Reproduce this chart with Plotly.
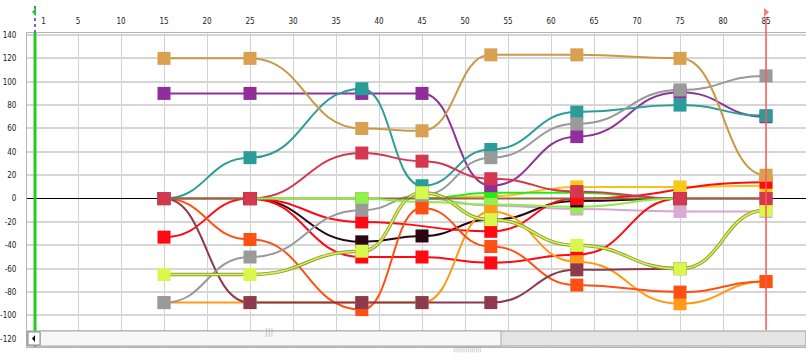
import plotly.graph_objects as go

# ---------------- data ----------------
x_pos = [15, 25, 38, 45, 53, 63, 75, 85]

brown       = [0, 0, 0, 0, 0, 0, 0, 0]
yellow      = [None, None, None, 0, 2, 10, 10, 11]
lilac       = [None, None, None, 0, -6, -9, -11, -11]
brightgreen = [None, None, None, 0, 5, 5, 0, None]
lightgreen  = [None, 0, 0, -3, -5, -7, 0, None]
black       = [None, 0, -37, -32, -18, -2, 0, None]
red_b       = [None, 0, -50, -50, -55, -48, 0, None]
red_a       = [-33, 0, -20, None, -28, 0, None, 14]
orange      = [-89, -89, -89, -89, -11, -54, -90, -71]
orangered   = [0, -35, -95, -8, -41, -74, -80, -71]
maroon      = [0, -89, -89, -89, -89, -61, -60, None]
purple      = [90, 90, 90, 90, 11, 53, 91, 70]
teal        = [0, 35, 94, 11, 42, 74, 80, 71]
gray        = [-89, -50, -10, 3, 35, 64, 93, 105]
lime        = [-65, -65, -45, 5, -18, -40, -60, -10]
tan         = [120, 120, 60, 58, 123, 123, 120, 20]
crimson     = [0, 0, 39, 32, 17, 6, 0, 0]

x_ticks = [1] + list(range(5, 95, 5))
y_ticks = list(range(-120, 160, 20))

# name, values, line colour, marker colour
series = {
    "brown": (brown, "#8E6A3C", "#8E6A3C"),
    "yellow": (yellow, "#F5C21A", "#F8C81A"),
    "lilac": (lilac, "#D6A6D2", "#D8AAD4"),
    "brightgreen": (brightgreen, "#2AE81A", "#22EE11"),
    "lightgreen": (lightgreen, "#8CEC48", "#92F04E"),
    "black": (black, "#2A0512", "#2A0512"),
    "red_b": (red_b, "#FF0A14", "#FF0A14"),
    "red_a": (red_a, "#FF0A14", "#FF0A14"),
    "orange": (orange, "#FF9A18", "#FF9B1A"),
    "orangered": (orangered, "#FF5014", "#FF5014"),
    "maroon": (maroon, "#8C3A4C", "#8E3A4E"),
    "purple": (purple, "#8E3399", "#902E9A"),
    "teal": (teal, "#2A9D9A", "#2A9D9A"),
    "gray": (gray, "#999999", "#9A9A9A"),
    "lime": (lime, "#D4F44A", "#D8F84C"),
    "tan": (tan, "#C89A48", "#D9A050"),
    "crimson": (crimson, "#D4384F", "#D4384F"),
}
line_order = ["yellow", "lilac", "brightgreen", "black", "red_b", "red_a", "orange",
              "orangered", "maroon", "purple", "teal", "gray", "lime", "tan",
              "crimson", "brown", "lightgreen"]
marker_order = ["brown", "yellow", "lilac", "brightgreen", "lightgreen", "black",
                "red_b", "red_a", "orange", "orangered", "maroon", "purple", "teal",
                "gray", "lime", "tan", "crimson"]


def smooth_path(xs, ys):
    """Cubic Bezier path (data coordinates) with flat tangents at each point."""
    pts = [(x, y) for x, y in zip(xs, ys) if y is not None]
    d = f"M {pts[0][0]},{pts[0][1]}"
    for (x0, y0), (x1, y1) in zip(pts[:-1], pts[1:]):
        xm = (x0 + x1) / 2
        d += f" C {xm},{y0} {xm},{y1} {x1},{y1}"
    return d


W, H = 806, 360
L, R, T, B = 27, 0, 33, 13
pw, ph = W - L - R, H - T - B


def px(xp):
    return (xp - L) / pw


def py(yp):
    return (H - B - yp) / ph


shapes = []
for name in line_order:
    vals, lc, mc = series[name]
    if name == "lime":
        # lime line is drawn with a darker olive edge
        shapes.append(dict(type="path", xref="x", yref="y", path=smooth_path(x_pos, vals),
                           line=dict(color="#8E9A3A", width=3.5), layer="between"))
        shapes.append(dict(type="path", xref="x", yref="y", path=smooth_path(x_pos, vals),
                           line=dict(color=lc, width=1.6), layer="between"))
    else:
        shapes.append(dict(type="path", xref="x", yref="y", path=smooth_path(x_pos, vals),
                           line=dict(color=lc, width=2), layer="between"))

fig = go.Figure()
for name in marker_order:
    vals, lc, mc = series[name]
    fig.add_trace(go.Scatter(
        x=x_pos, y=vals, name=name, mode="markers",
        marker=dict(symbol="square", size=13, color=mc, line=dict(width=0)),
        showlegend=False, hoverinfo="skip", cliponaxis=False,
    ))

# green vertical line at x=0 and its marker above the plot
shapes.append(dict(type="line", xref="x", yref="paper", x0=0, x1=0, y0=0, y1=1,
                   line=dict(color="#22CC22", width=3), layer="above"))
shapes.append(dict(type="line", xref="x", yref="paper", x0=0, x1=0, y0=1, y1=py(6),
                   line=dict(color="#6A6ACC", width=2, dash="dot")))
shapes.append(dict(type="path", xref="paper", yref="paper",
                   path=f"M {px(32)} {py(12)} L {px(36)} {py(8)} L {px(36)} {py(16)} Z",
                   fillcolor="#22CC22", line=dict(width=0)))
# red vertical line at x=85 with its flag
shapes.append(dict(type="line", xref="x", yref="paper", x0=85, x1=85, y0=py(330), y1=py(17),
                   line=dict(color="rgba(255,90,90,0.75)", width=2), layer="above"))
shapes.append(dict(type="path", xref="paper", yref="paper",
                   path=f"M {px(764)} {py(8)} L {px(769)} {py(12)} L {px(764)} {py(17)} Z",
                   fillcolor="rgba(255,90,90,0.8)", line=dict(width=0)))
# scrollbar
shapes.append(dict(type="rect", xref="paper", yref="paper",
                   x0=px(27), x1=px(806), y0=py(346), y1=py(331),
                   fillcolor="#E4E4E4", line=dict(color="#9A9A9A", width=1), layer="above"))
shapes.append(dict(type="rect", xref="paper", yref="paper",
                   x0=px(40), x1=px(501), y0=py(346), y1=py(331),
                   fillcolor="#F7F7F7", line=dict(color="#A8A8A8", width=1), layer="above"))
shapes.append(dict(type="rect", xref="paper", yref="paper",
                   x0=px(28), x1=px(40), y0=py(345), y1=py(332),
                   fillcolor="#FFFFFF", line=dict(color="#8A8A8A", width=1), layer="above"))
shapes.append(dict(type="path", xref="paper", yref="paper",
                   path=f"M {px(32)} {py(338.5)} L {px(35)} {py(335)} L {px(35)} {py(342)} Z",
                   fillcolor="#000000", line=dict(width=0), layer="above"))

annotations = [
    dict(x=px(263), y=py(338.5), xref="paper", yref="paper", text="|||",
         showarrow=False, font=dict(size=8, color="#B0B0B0", family="DejaVu Sans")),
    dict(x=px(467), y=py(355), xref="paper", yref="paper", text="||||||||||||||",
         showarrow=False, font=dict(size=6, color="#A8A8A8", family="DejaVu Sans")),
]

tick_font = dict(family="Liberation Sans Narrow, DejaVu Sans Condensed, Liberation Sans, sans-serif",
                 size=8, color="#222222")

fig.update_layout(
    width=W, height=H,
    margin=dict(l=L, r=R, t=T, b=B, pad=0),
    paper_bgcolor="white", plot_bgcolor="white",
    font=tick_font,
    shapes=shapes, annotations=annotations,
    xaxis=dict(
        side="top", range=[-0.93, 89.65], tickvals=x_ticks,
        ticktext=[str(v) for v in x_ticks],
        showgrid=False, zeroline=False, automargin=False,
        minor=dict(tick0=0, dtick=5, showgrid=True, gridcolor="#D2D2D2", gridwidth=1),
        showline=True, mirror=True, linecolor="#B4B4B4", linewidth=1,
        ticks="", ticklabelstandoff=5, tickfont=tick_font,
    ),
    yaxis=dict(
        range=[-127, 141.7], tickvals=y_ticks,
        ticktext=[str(v) for v in y_ticks],
        showgrid=True, gridcolor="#D6D6D6", gridwidth=2, automargin=False,
        zeroline=True, zerolinecolor="#000000", zerolinewidth=1,
        showline=True, mirror=True, linecolor="#B4B4B4", linewidth=1,
        ticks="", ticklabelstandoff=8, tickfont=tick_font,
    ),
)

fig.write_html("out.html", config={"displayModeBar": False},
               post_script="document.body.style.margin='0';document.body.style.overflow='hidden';")
